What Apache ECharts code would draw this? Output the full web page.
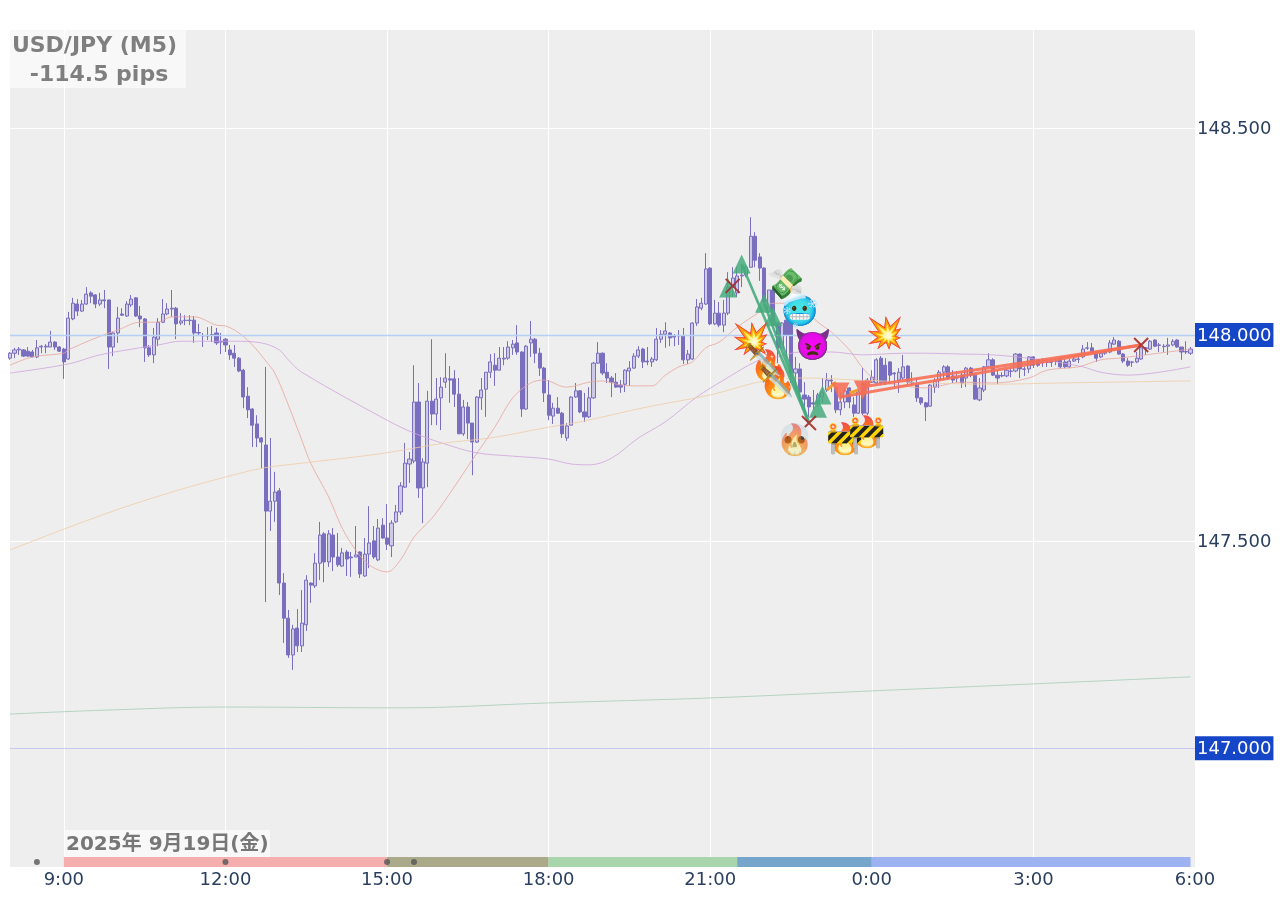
<!DOCTYPE html>
<html><head><meta charset="utf-8"><style>html,body{margin:0;background:#fff}#c{width:1280px;height:900px}</style>
<script src="https://cdn.jsdelivr.net/npm/echarts@6/dist/echarts.min.js"></script></head><body><div id="c"></div>
<script>
const tickLabels=['9:00','12:00','15:00','18:00','21:00','0:00','3:00','6:00'];
const priceTicks=[147,147.5,148,148.5];
const highlightedPrices=[147,148];
const categories=[];
for(let m=0;m<=22*60;m+=5){const t=8*60+m;categories.push(Math.floor(t/60)%24+':'+String(t%60).padStart(2,'0'));}
// [open, close, low, high]
const ohlc=[
[147.944,147.956,147.940,147.959],[147.956,147.964,147.944,147.969],[147.964,147.966,147.952,147.971],[147.964,147.949,147.947,147.966],
[147.961,147.949,147.947,147.971],[147.959,147.947,147.947,147.964],[147.947,147.969,147.944,147.988],[147.971,147.973,147.956,147.976],
[147.971,147.973,147.956,147.978],[147.971,147.983,147.971,148.010],[147.983,147.971,147.964,147.985],[147.971,147.961,147.959,147.973],
[147.966,147.935,147.894,147.969],[147.942,148.041,147.940,148.056],[148.039,148.077,148.036,148.090],[148.075,148.058,148.046,148.087],
[148.058,148.075,148.056,148.085],[148.075,148.099,148.073,148.116],[148.102,148.094,148.077,148.106],[148.097,148.075,148.065,148.099],
[148.075,148.085,148.070,148.102],[148.085,148.083,148.065,148.109],[148.085,147.971,147.918,148.085],[147.971,148.005,147.949,148.007],
[148.005,148.041,147.981,148.068],[148.051,148.048,148.046,148.065],[148.046,148.075,148.044,148.082],[148.073,148.087,148.068,148.097],
[148.090,148.046,148.044,148.092],[148.046,148.039,148.019,148.070],[148.039,147.969,147.935,148.041],[147.969,147.952,147.947,147.976],
[147.952,147.995,147.932,148.017],[147.990,148.031,147.973,148.041],[148.031,148.051,148.029,148.087],[148.051,148.063,148.048,148.077],
[148.063,148.065,148.044,148.109],[148.065,148.027,147.990,148.068],[148.029,148.034,148.024,148.053],[148.035,148.036,148.024,148.048],
[148.035,148.036,148.024,148.048],[148.036,148.005,147.981,148.046],[148.006,148.005,147.998,148.027],[147.999,147.998,147.971,148.005],
[147.999,147.998,147.988,148.019],[148.001,148.000,147.983,148.022],[148.005,147.981,147.976,148.017],[147.985,147.983,147.954,148.005],
[147.990,147.976,147.959,147.993],[147.964,147.952,147.940,147.976],[147.956,147.944,147.923,147.976],[147.944,147.913,147.910,147.947],
[147.915,147.850,147.823,147.918],[147.852,147.819,147.799,147.874],[147.821,147.782,147.729,147.823],[147.785,147.751,147.729,147.806],
[147.751,147.741,147.678,147.753],[147.734,147.574,147.354,147.923],[147.574,147.598,147.526,147.751],[147.598,147.620,147.548,147.669],
[147.623,147.400,147.371,147.630],[147.400,147.315,147.255,147.424],[147.315,147.226,147.219,147.335],[147.226,147.289,147.190,147.299],
[147.291,147.248,147.233,147.337],[147.248,147.303,147.233,147.383],[147.299,147.407,147.284,147.419],[147.400,147.395,147.352,147.402],
[147.393,147.448,147.388,147.472],[147.448,147.516,147.407,147.548],[147.519,147.451,147.402,147.523],[147.451,147.519,147.439,147.528],
[147.516,147.463,147.429,147.533],[147.463,147.444,147.439,147.521],[147.441,147.473,147.439,147.485],[147.475,147.458,147.417,147.480],
[147.463,147.461,147.415,147.475],[147.463,147.468,147.463,147.538],[147.475,147.422,147.412,147.477],[147.417,147.470,147.415,147.509],
[147.470,147.497,147.436,147.586],[147.502,147.463,147.458,147.538],[147.456,147.533,147.453,147.555],[147.540,147.509,147.507,147.557],
[147.509,147.494,147.480,147.591],[147.490,147.545,147.463,147.552],[147.548,147.572,147.545,147.589],[147.572,147.635,147.565,147.644],
[147.632,147.690,147.630,147.739],[147.688,147.700,147.642,147.717],[147.695,147.838,147.690,147.927],[147.838,147.630,147.606,147.884],
[147.630,147.693,147.545,147.702],[147.690,147.840,147.632,147.865],[147.840,147.809,147.782,147.990],[147.809,147.845,147.782,147.896],
[147.848,147.874,147.770,147.898],[147.886,147.896,147.872,147.956],[147.894,147.891,147.836,147.925],[147.894,147.857,147.826,147.915],
[147.857,147.761,147.761,147.896],[147.761,147.826,147.756,147.843],[147.826,147.787,147.748,147.838],[147.787,147.741,147.661,147.787],
[147.741,147.850,147.739,147.852],[147.848,147.867,147.819,147.896],[147.869,147.910,147.802,147.910],[147.910,147.935,147.896,147.954],
[147.927,147.915,147.877,147.956],[147.915,147.944,147.915,147.971],[147.942,147.944,147.927,147.971],[147.944,147.971,147.940,147.985],
[147.969,147.978,147.952,147.988],[147.981,147.959,147.952,148.024],[147.959,147.821,147.802,147.961],[147.821,147.973,147.819,147.976],
[147.981,147.990,147.947,148.034],[147.990,147.956,147.932,147.993],[147.956,147.920,147.901,147.969],[147.920,147.860,147.838,147.923],
[147.855,147.806,147.794,147.891],[147.804,147.823,147.785,147.836],[147.823,147.811,147.809,147.850],[147.811,147.761,147.751,147.814],
[147.751,147.780,147.744,147.787],[147.782,147.850,147.782,147.852],[147.850,147.865,147.848,147.884],[147.865,147.814,147.811,147.867],
[147.814,147.802,147.790,147.860],[147.802,147.848,147.799,147.874],[147.848,147.932,147.846,147.935],[147.932,147.956,147.930,147.983],
[147.956,147.908,147.903,147.958],[147.910,147.896,147.884,147.932],[147.896,147.886,147.850,147.901],[147.886,147.874,147.872,147.908],
[147.879,147.874,147.860,147.891],[147.881,147.915,147.862,147.917],[147.913,147.920,147.877,147.937],[147.920,147.949,147.918,147.956],
[147.949,147.964,147.944,147.973],[147.966,147.935,147.920,147.969],[147.937,147.935,147.927,147.971],[147.935,147.942,147.923,147.947],
[147.940,147.990,147.937,148.017],[147.990,148.002,147.981,148.012],[148.002,148.010,147.969,148.031],[148.005,147.993,147.973,148.007],
[147.998,147.995,147.973,148.002],[147.999,147.998,147.976,148.012],[147.998,147.940,147.930,148.017],[147.940,147.954,147.930,147.964],
[147.942,148.029,147.940,148.031],[148.029,148.068,148.022,148.087],[148.065,148.077,148.060,148.090],[148.075,148.160,148.073,148.198],
[148.162,148.027,148.024,148.164],[148.027,148.053,148.024,148.085],[148.053,148.024,148.019,148.080],[148.024,148.053,148.007,148.085],
[148.053,148.116,148.048,148.152],[148.116,148.138,148.092,148.164],[148.102,148.143,148.092,148.164],[148.143,148.145,148.116,148.169],
[148.145,148.164,148.140,148.169],[148.164,148.239,148.164,148.285],[148.239,148.181,148.164,148.249],[148.189,148.162,148.131,148.198],
[148.162,148.080,148.077,148.164],[148.056,148.109,148.053,148.109],[148.109,148.024,148.022,148.112],[148.029,147.969,147.932,148.031],
[147.969,148.029,147.966,148.031],[148.036,148.000,147.944,148.041],[148.029,147.908,147.884,148.031],[147.908,147.918,147.867,147.947],
[147.918,147.862,147.838,147.932],[147.855,147.845,147.823,147.886],[147.850,147.826,147.802,147.855],[147.836,147.833,147.819,147.867],
[147.836,147.855,147.826,147.860],[147.850,147.862,147.836,147.896],[147.867,147.891,147.862,147.908],[147.891,147.889,147.862,147.903],
[147.874,147.819,147.811,147.877],[147.819,147.838,147.806,147.862],[147.838,147.865,147.823,147.872],[147.872,147.838,147.823,147.874],
[147.831,147.811,147.802,147.850],[147.811,147.862,147.809,147.869],[147.884,147.811,147.806,147.920],[147.811,147.891,147.806,147.896],
[147.886,147.898,147.884,147.915],[147.884,147.940,147.879,147.944],[147.944,147.884,147.879,147.949],[147.927,147.884,147.879,147.944],
[147.935,147.903,147.884,147.937],[147.908,147.906,147.874,147.910],[147.891,147.910,147.860,147.920],[147.896,147.923,147.891,147.952],
[147.925,147.886,147.879,147.927],[147.886,147.884,147.879,147.910],[147.879,147.848,147.838,147.896],[147.848,147.836,147.831,147.850],
[147.836,147.826,147.792,147.838],[147.828,147.879,147.826,147.881],[147.874,147.889,147.860,147.896],[147.891,147.910,147.872,147.915],
[147.910,147.923,147.891,147.927],[147.923,147.896,147.891,147.927],[147.901,147.891,147.884,147.915],[147.898,147.896,147.886,147.913],
[147.903,147.884,147.872,147.910],[147.896,147.920,147.874,147.923],[147.920,147.903,147.898,147.923],[147.903,147.845,147.843,147.908],
[147.843,147.872,147.840,147.896],[147.867,147.923,147.862,147.925],[147.923,147.940,147.920,147.956],[147.940,147.903,147.901,147.944],
[147.903,147.896,147.881,147.915],[147.902,147.901,147.898,147.910],[147.901,147.915,147.898,147.917],[147.912,147.913,147.898,147.920],
[147.913,147.954,147.910,147.956],[147.954,147.918,147.896,147.956],[147.917,147.918,147.901,147.923],[147.918,147.947,147.908,147.949],
[147.947,147.927,147.920,147.949],[147.940,147.927,147.923,147.942],[147.934,147.935,147.923,147.944],[147.934,147.935,147.923,147.942],
[147.934,147.935,147.923,147.942],[147.936,147.937,147.927,147.942],[147.940,147.923,147.920,147.949],[147.935,147.923,147.920,147.942],
[147.923,147.937,147.920,147.942],[147.937,147.942,147.935,147.947],[147.941,147.942,147.932,147.949],[147.947,147.966,147.944,147.976],
[147.968,147.969,147.964,147.983],[147.969,147.956,147.954,147.981],[147.959,147.944,147.935,147.961],[147.947,147.956,147.944,147.959],
[147.956,147.959,147.952,147.964],[147.959,147.981,147.956,147.988],[147.978,147.988,147.976,147.995],[147.985,147.954,147.952,147.988],
[147.954,147.937,147.932,147.956],[147.937,147.927,147.923,147.944],[147.934,147.935,147.923,147.937],[147.935,147.944,147.932,147.959],
[147.942,147.969,147.940,147.971],[147.968,147.969,147.952,147.971],[147.966,147.985,147.964,147.988],[147.988,147.973,147.971,147.990],
[147.975,147.976,147.959,147.981],[147.972,147.973,147.959,147.978],[147.973,147.976,147.952,147.993],[147.976,147.985,147.973,147.990],
[147.988,147.971,147.969,147.990],[147.971,147.959,147.940,147.971],[147.960,147.959,147.954,147.985],[147.956,147.966,147.952,147.971]
];
// moving averages, read as [candle index, price] points
const maFast=[[0,147.927],[5,147.947],[12,147.956],[13,147.964],[18,147.988],[22,148.005],[24,148.012],[29,148.031],[33,148.031],[36,148.044],[41,148.044],[46,148.024],[48,148.022],[51,148.005],[54,147.976],[57,147.937],[59,147.908],[62,147.831],[65,147.746],[67,147.690],[71,147.608],[74,147.533],[77,147.480],[80,147.444],[84,147.427],[87,147.456],[90,147.511],[94,147.557],[97,147.601],[103,147.698],[108,147.777],[112,147.848],[116,147.884],[119,147.891],[120,147.889],[124,147.874],[129,147.886],[132,147.889],[136,147.879],[140,147.877],[143,147.877],[146,147.903],[149,147.923],[152,147.935],[155,147.969],[158,147.983],[162,148.019],[167,148.056],[170,148.077],[175,148.077],[180,148.031],[183,148.007],[187,147.964],[190,147.920],[193,147.891],[198,147.879],[204,147.872],[212,147.886],[219,147.884],[227,147.896],[231,147.915],[238,147.923],[243,147.940],[247,147.944],[253,147.952],[263,147.966]];
const maMid=[[0,147.908],[13,147.930],[20,147.952],[30,147.971],[33,147.976],[38,147.985],[42,147.985],[50,147.985],[56,147.981],[60,147.964],[62,147.940],[65,147.910],[84,147.794],[90,147.763],[97,147.736],[104,147.715],[112,147.707],[120,147.700],[125,147.688],[129,147.686],[134,147.702],[140,147.751],[146,147.790],[153,147.850],[159,147.891],[167,147.940],[171,147.947],[176,147.959],[183,147.959],[190,147.952],[199,147.956],[203,147.956],[212,147.954],[219,147.952],[230,147.940],[239,147.923],[243,147.910],[249,147.903],[256,147.910],[263,147.923]];
const maSlow=[[0,147.480],[27,147.589],[54,147.673],[65,147.690],[82,147.712],[97,147.739],[107,147.751],[120,147.777],[127,147.790],[142,147.826],[156,147.855],[169,147.891],[178,147.896],[189,147.891],[219,147.881],[234,147.884],[263,147.889]];
const maLong=[[0,147.083],[20,147.092],[48,147.100],[87,147.098],[120,147.110],[156,147.122],[192,147.139],[228,147.156],[263,147.173]];
// trades
const buyMarks=[[160,148.114],[163,148.172],[168,148.077],[170,148.044],[180,147.823],[181,147.855]];
const sellMarks=[[185,147.862],[190,147.867]];
const closeMarks=[[161,148.119],[178,147.787],[252,147.976]];
const buyLines=[[[163,148.172],[178,147.787]],[[168,148.077],[178,147.787]],[[170,148.044],[178,147.787]]];
const sellLines=[[[185,147.850],[252,147.976]],[[190,147.875],[252,147.976]]];
const orangeTicks=[[[182,147.867],[184,147.886]],[[187,147.860],[189,147.867]]];
// [candle index, price, emoji, opacity]
const emojiMarks=[[169,147.923,'🔥',.7],[171,147.881,'🔥',.7],
[165,147.988,'💥',.85],[195,148.002,'💥',.85],[173,148.121,'💸',.85],[176,148.056,'🥶',.85],[179,147.973,'👿',.85],
[175,147.744,'💀',.8],[175,147.744,'🔥',.35],[186,147.745,'🔥',.7],[191,147.762,'🔥',.7],[186,147.748,'🚧',.9],[191,147.763,'🚧',.9]];
const daggerMarks=[[168,147.940,'🗡️',.8],[171,147.886,'🗡️',.8]];
const sessions=[['9:00','15:00','#f4aeae'],['15:00','18:00','#aaa98a'],['18:00','21:30','#a8d5ac'],['21:30','0:00','#76a5cc'],['0:00','5:55','#9db3f1']];
const newsDots=[['8:30',146.725],['12:00',146.725],['15:00',146.725],['15:30',146.725]];
const axisMin=146.713, axisMax=148.738, stripTop=146.737;

const ink='#2a3f5f', candle='#7a6ebf';
const lineSeries=(name,data,color)=>({name,type:'line',data,symbol:'none',smooth:.35,silent:true,z:3,lineStyle:{color,width:.8}});
const chart=echarts.init(document.getElementById('c'),null,{renderer:'canvas'});
chart.setOption({
 animation:false,backgroundColor:'#fff',
 textStyle:{fontFamily:'"DejaVu Sans"'},
 grid:{left:10,top:30,width:1185,height:837,show:true,backgroundColor:'#eeeeee',borderWidth:0},
 xAxis:{type:'category',data:categories,boundaryGap:false,axisLine:{show:false},axisTick:{show:false},
  axisLabel:{color:ink,fontSize:18,margin:4,interval:(i,v)=>tickLabels.includes(v),hideOverlap:false},
  splitLine:{show:true,interval:(i,v)=>tickLabels.includes(v),lineStyle:{color:'#fff',width:1}}},
 yAxis:{type:'value',position:'right',min:axisMin,max:axisMax,axisLine:{show:false},
  axisTick:{show:false,customValues:priceTicks},
  splitLine:{show:true,lineStyle:{color:'#fff',width:1}},
  axisLabel:{customValues:priceTicks,margin:0,color:ink,fontSize:18,
   formatter:v=>{const s=v.toFixed(3);return highlightedPrices.includes(v)?'{hl|'+s+'}':'{n|'+s+'}'},
   rich:{hl:{color:'#fff',backgroundColor:'#1546c8',padding:[4,2,2,2],fontSize:18},n:{color:ink,fontSize:18,padding:[4,2,2,2]}}}},
 series:[
  {type:'candlestick',name:'USD/JPY',data:ohlc,barWidth:3.6,z:2,
   itemStyle:{color:'#cdc9e6',color0:candle,borderColor:candle,borderColor0:candle,borderWidth:1},
   markLine:{silent:true,symbol:'none',label:{show:false},
    data:[{yAxis:148,lineStyle:{color:'#b5d0f5',width:1.4,type:'solid'}},{yAxis:147,lineStyle:{color:'#c6c8ee',width:1,type:'solid'}}]},
   markArea:{silent:true,label:{show:false},
    data:sessions.map(s=>[{xAxis:s[0],yAxis:axisMin,itemStyle:{color:s[2],opacity:1}},{xAxis:s[1],yAxis:stripTop}])}},
  lineSeries('maFast',maFast,'#e8a49c'),
  lineSeries('maMid',maMid,'#cfa3dc'),
  lineSeries('maSlow',maSlow,'#efcba6'),
  lineSeries('maLong',maLong,'#a4cdb6'),
  ...buyLines.map(d=>({type:'line',data:d,symbol:'none',silent:true,z:5,lineStyle:{color:'#45ab7c',width:2.6,opacity:.9}})),
  ...sellLines.map(d=>({type:'line',data:d,symbol:'none',silent:true,z:5,lineStyle:{color:'#f66f55',width:3,opacity:.9}})),
  ...orangeTicks.map(d=>({type:'line',data:d,symbol:'none',silent:true,z:6,lineStyle:{color:'#f0a030',width:3}})),
  {type:'scatter',data:buyMarks,symbol:'triangle',symbolSize:[18,19],z:6,silent:true,itemStyle:{color:'#45ab7c',opacity:.85}},
  {type:'scatter',data:sellMarks,symbol:'triangle',symbolSize:[18,19],symbolRotate:180,z:6,silent:true,itemStyle:{color:'#f66f55',opacity:.9}},
  {type:'scatter',data:closeMarks,symbol:'path://M0 0L10 10M10 0L0 10',symbolSize:14,z:7,silent:true,itemStyle:{color:'none',borderColor:'#a52a2a',borderWidth:2,opacity:.9}},
  {type:'scatter',data:newsDots,symbolSize:6,z:7,silent:true,itemStyle:{color:'#555'}},
  {type:'scatter',silent:true,z:8,symbolSize:1,itemStyle:{opacity:0},
   data:emojiMarks.map(e=>({value:[e[0],e[1]],label:{show:true,position:'inside',formatter:e[2],fontSize:30,fontFamily:'"Noto Color Emoji"',opacity:e[3]}}))},
  {type:'scatter',silent:true,z:9,symbolSize:1,itemStyle:{opacity:0},
   data:daggerMarks.map(e=>({value:[e[0],e[1]],label:{show:true,position:'inside',rotate:90,formatter:e[2],fontSize:30,fontFamily:'"Noto Color Emoji"',opacity:e[3]}}))}
 ],
 graphic:[
  {type:'rect',z:19,shape:{x:10,y:30,width:176,height:58},style:{fill:'rgba(255,255,255,.6)'}},
  {type:'text',x:94.5,y:32,z:20,style:{text:'USD/JPY (M5)',textAlign:'center',textVerticalAlign:'top',font:'bold 22px "DejaVu Sans"',fill:'#7f7f7f',lineHeight:29}},
  {type:'text',x:99,y:61,z:20,style:{text:'-114.5 pips',textAlign:'center',textVerticalAlign:'top',font:'bold 22px "DejaVu Sans"',fill:'#7f7f7f',lineHeight:29}},
  {type:'rect',z:19,shape:{x:64,y:830,width:206,height:27},style:{fill:'rgba(255,255,255,.6)'}},
  {type:'text',x:66,y:835,z:20,style:{text:'2025年 9月19日(金)',font:'bold 20px "DejaVu Sans","Noto Sans CJK JP"',fill:'#777'}}
 ]
});
</script></body></html>
